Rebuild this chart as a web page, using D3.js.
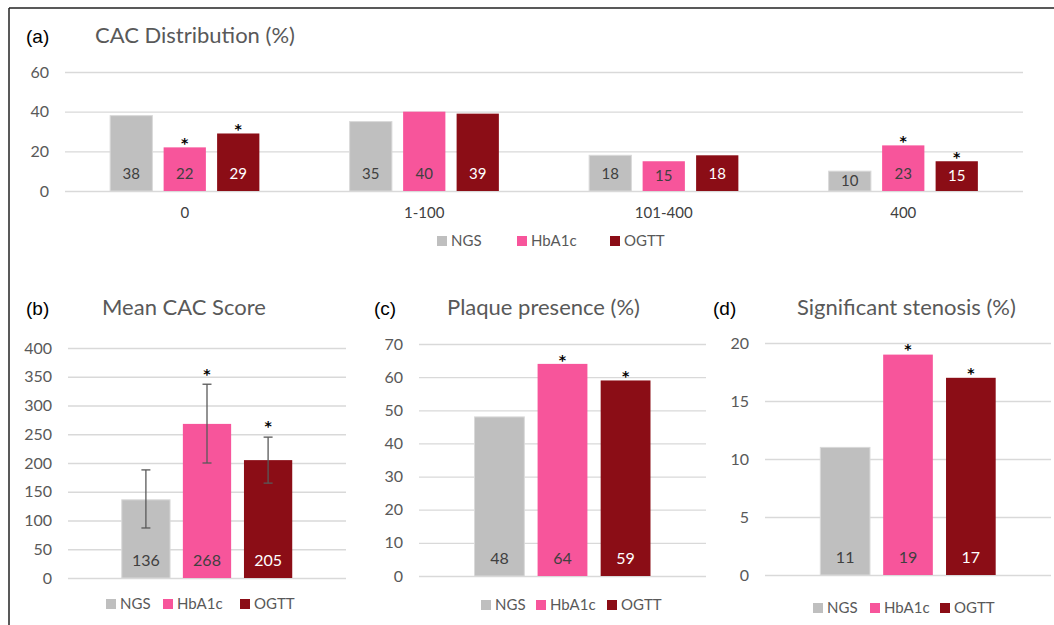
<!DOCTYPE html>
<html>
<head>
<meta charset="utf-8">
<script src="https://cdn.jsdelivr.net/npm/d3@7"></script>
<style>
  body { margin: 0; background: #fff; }
  text { font-family: Lato, "Open Sans", sans-serif; }
</style>
</head>
<body>
<svg id="fig" width="1054" height="625"></svg>
<script>
// groups shared by all four panels
var groups = ["NGS", "HbA1c", "OGTT"];
var groupColors = ["#bfbfbf", "#f7559b", "#8b0d16"];
var labelColors = ["#404040", "#404040", "#ffffff"];

// (a) CAC distribution
var cacBins = ["0", "1-100", "101-400", "400"];
var cacNGS = [38, 35, 18, 10];
var cacHbA1c = [22, 40, 15, 23];
var cacOGTT = [29, 39, 18, 15];
var cacStarNGS = [false, false, false, false];
var cacStarHbA1c = [true, false, false, true];
var cacStarOGTT = [true, false, false, true];
var cacTicks = [0, 20, 40, 60];

// (b) mean CAC score with error bars
var meanCac = [136, 268, 205];
var meanCacLow = [87, 200, 165];
var meanCacHigh = [188, 337, 245];
var meanCacStars = [false, true, true];
var meanCacTicks = [0, 50, 100, 150, 200, 250, 300, 350, 400];

// (c) plaque presence
var plaque = [48, 64, 59];
var plaqueStars = [false, true, true];
var plaqueTicks = [0, 10, 20, 30, 40, 50, 60, 70];

// (d) significant stenosis
var stenosis = [11, 19, 17];
var stenosisStars = [false, true, true];
var stenosisTicks = [0, 5, 10, 15, 20];

var svg = d3.select("#fig");
var textGray = "#595959",
    gridGray = "#d9d9d9";

// frame lines (top and left)
svg.append("line").attr("x1", 9).attr("y1", 8).attr("x2", 1054).attr("y2", 8)
    .attr("stroke", "#222").attr("stroke-width", 1.5);
svg.append("line").attr("x1", 9).attr("y1", 8).attr("x2", 9).attr("y2", 625)
    .attr("stroke", "#222").attr("stroke-width", 1.5);

// draws y gridlines + tick labels
function drawYAxis(g, y, ticks, x0, x1) {
    var ax = g.append("g")
        .attr("transform", "translate(" + x0 + ",0)")
        .call(d3.axisLeft(y).tickValues(ticks).tickSize(-(x1 - x0)).tickPadding(16));
    ax.select(".domain").remove();
    ax.selectAll(".tick line").attr("stroke", gridGray).attr("stroke-width", 1.3);
    ax.selectAll(".tick text")
        .attr("fill", textGray)
        .style("font-family", "Lato, sans-serif")
        .style("font-size", "16px");
}

function drawTitle(tag, title, tagX, titleX, baseY) {
    svg.append("text").attr("x", tagX).attr("y", baseY)
        .style("font-family", "'Liberation Sans', Arial, sans-serif")
        .style("font-size", "19px").attr("fill", "#000").text(tag);
    svg.append("text").attr("x", titleX).attr("y", baseY)
        .style("font-size", "22px").attr("fill", textGray).text(title);
}

function drawLegend(xs, cy) {
    var lg = svg.append("g");
    groups.forEach(function (name, i) {
        lg.append("rect").attr("x", xs[i]).attr("y", cy - 5)
            .attr("width", 10).attr("height", 10).attr("fill", groupColors[i]);
        lg.append("text").attr("x", xs[i] + 14).attr("y", cy).attr("dy", "0.35em")
            .style("font-size", "15px").attr("fill", textGray).text(name);
    });
}

// star glyph: centre sits `gap` px above `top`
function addStar(sel, xf, topf, gap) {
    sel.append("text")
        .attr("x", xf)
        .attr("y", function (d) { return topf(d) - gap + 8.3; })
        .attr("text-anchor", "middle")
        .style("font-family", "'DejaVu Sans', sans-serif")
        .style("font-weight", "bold")
        .style("font-size", "14px").attr("fill", "#000")
        .text("*");
}

// value label: near the base, centred if the bar is too short
function labelY(top, base, off) {
    return Math.max(base - off, (top + base) / 2);
}

// ---------- (a) ----------
drawTitle("(a)", "CAC Distribution (%)", 26, 95, 43);

var a = {x0: 65, x1: 1023, yBase: 191, yTop: 72};
var ya = d3.scaleLinear().domain([0, 60]).range([a.yBase, a.yTop]);
var xa0 = d3.scaleBand().domain(cacBins).range([a.x0, a.x1]).paddingInner(0.33).paddingOuter(0.165);
var xa1 = d3.scaleBand().domain(groups).range([0, xa0.bandwidth()]).paddingInner(0.21).paddingOuter(0.105);

var gA = svg.append("g");
drawYAxis(gA, ya, cacTicks, a.x0, a.x1);

var xAx = gA.append("g").attr("transform", "translate(0," + a.yBase + ")")
    .call(d3.axisBottom(xa0).tickSize(0).tickPadding(16));
xAx.select(".domain").remove();
xAx.selectAll("text").attr("fill", "#404040").style("font-size", "15px")
    .style("font-family", "Lato, sans-serif");

var cacRows = [];
cacBins.forEach(function (bin, i) {
    cacRows.push({bin: bin, g: 0, v: cacNGS[i], star: cacStarNGS[i]});
    cacRows.push({bin: bin, g: 1, v: cacHbA1c[i], star: cacStarHbA1c[i]});
    cacRows.push({bin: bin, g: 2, v: cacOGTT[i], star: cacStarOGTT[i]});
});

function xaMid(d) { return xa0(d.bin) + xa1(groups[d.g]) + xa1.bandwidth() / 2; }

var barA = gA.selectAll(".barA").data(cacRows).enter().append("g");
barA.append("rect")
    .attr("x", function (d) { return xa0(d.bin) + xa1(groups[d.g]); })
    .attr("y", function (d) { return ya(d.v); })
    .attr("width", xa1.bandwidth())
    .attr("height", function (d) { return ya(0) - ya(d.v); })
    .attr("fill", function (d) { return groupColors[d.g]; })
    .attr("stroke", function (d) { return d.g === 0 ? "#d9d9d9" : "none"; })
    .attr("stroke-width", 1);
barA.append("text")
    .attr("x", xaMid)
    .attr("y", function (d) { return labelY(ya(d.v), a.yBase, 17); }).attr("dy", "0.35em")
    .attr("text-anchor", "middle").style("font-size", "15px")
    .attr("fill", function (d) { return labelColors[d.g]; })
    .text(function (d) { return d.v; });
addStar(barA.filter(function (d) { return d.star; }), xaMid,
    function (d) { return ya(d.v); }, 7.5);

drawLegend([437, 517, 610], 241);

// ---------- single-group panels (b, c, d) ----------
function drawSimple(p) {
    var g = svg.append("g");
    var y = d3.scaleLinear().domain([0, p.max]).range([p.yBase, p.yTop]);
    var x = d3.scaleBand().domain(groups).range([p.x0, p.x1]).paddingInner(0.21).paddingOuter(0.88);
    drawYAxis(g, y, p.ticks, p.x0, p.x1);

    var rows = groups.map(function (name, i) {
        return {name: name, i: i, v: p.values[i], star: p.stars[i],
            lo: p.low ? p.low[i] : null, hi: p.high ? p.high[i] : null};
    });
    function mid(d) { return x(d.name) + x.bandwidth() / 2; }

    var bars = g.selectAll(".bar").data(rows).enter().append("g");
    bars.append("rect")
        .attr("x", function (d) { return x(d.name); })
        .attr("y", function (d) { return y(d.v); })
        .attr("width", x.bandwidth())
        .attr("height", function (d) { return y(0) - y(d.v); })
        .attr("fill", function (d) { return groupColors[d.i]; })
        .attr("stroke", function (d) { return d.i === 0 ? "#d9d9d9" : "none"; });
    bars.append("text")
        .attr("x", mid)
        .attr("y", p.yBase - 18).attr("dy", "0.35em")
        .attr("text-anchor", "middle").style("font-size", "16px")
        .attr("fill", function (d) { return labelColors[d.i]; })
        .text(function (d) { return d.v; });

    if (p.low) {
        var eb = bars.append("g").attr("stroke", "#595959").attr("stroke-width", 1.3);
        eb.append("line")
            .attr("x1", mid).attr("x2", mid)
            .attr("y1", function (d) { return y(d.lo); })
            .attr("y2", function (d) { return y(d.hi); });
        ["lo", "hi"].forEach(function (k) {
            eb.append("line")
                .attr("x1", function (d) { return mid(d) - 4.5; })
                .attr("x2", function (d) { return mid(d) + 4.5; })
                .attr("y1", function (d) { return y(d[k]); })
                .attr("y2", function (d) { return y(d[k]); });
        });
    }

    addStar(bars.filter(function (d) { return d.star; }), mid,
        function (d) { return y(p.low ? d.hi : d.v); }, p.starGap);

    drawTitle(p.tag, p.title, p.tagX, p.titleX, 315);
    drawLegend(p.legendX, p.legendY);
}

drawSimple({tag: "(b)", title: "Mean CAC Score", tagX: 26, titleX: 102,
    x0: 68, x1: 346, yBase: 578, yTop: 348, max: 400, ticks: meanCacTicks,
    values: meanCac, low: meanCacLow, high: meanCacHigh, stars: meanCacStars, starGap: 14,
    legendX: [106, 163, 240], legendY: 604});

drawSimple({tag: "(c)", title: "Plaque presence (%)", tagX: 374, titleX: 447,
    x0: 419, x1: 706, yBase: 576, yTop: 344, max: 70, ticks: plaqueTicks,
    values: plaque, stars: plaqueStars, starGap: 7.5,
    legendX: [481, 536, 607], legendY: 605});

drawSimple({tag: "(d)", title: "Significant stenosis (%)", tagX: 713, titleX: 797,
    x0: 765, x1: 1051, yBase: 575, yTop: 343, max: 20, ticks: stenosisTicks,
    values: stenosis, stars: stenosisStars, starGap: 8.5,
    legendX: [813, 870, 940], legendY: 608});
</script>
</body>
</html>
